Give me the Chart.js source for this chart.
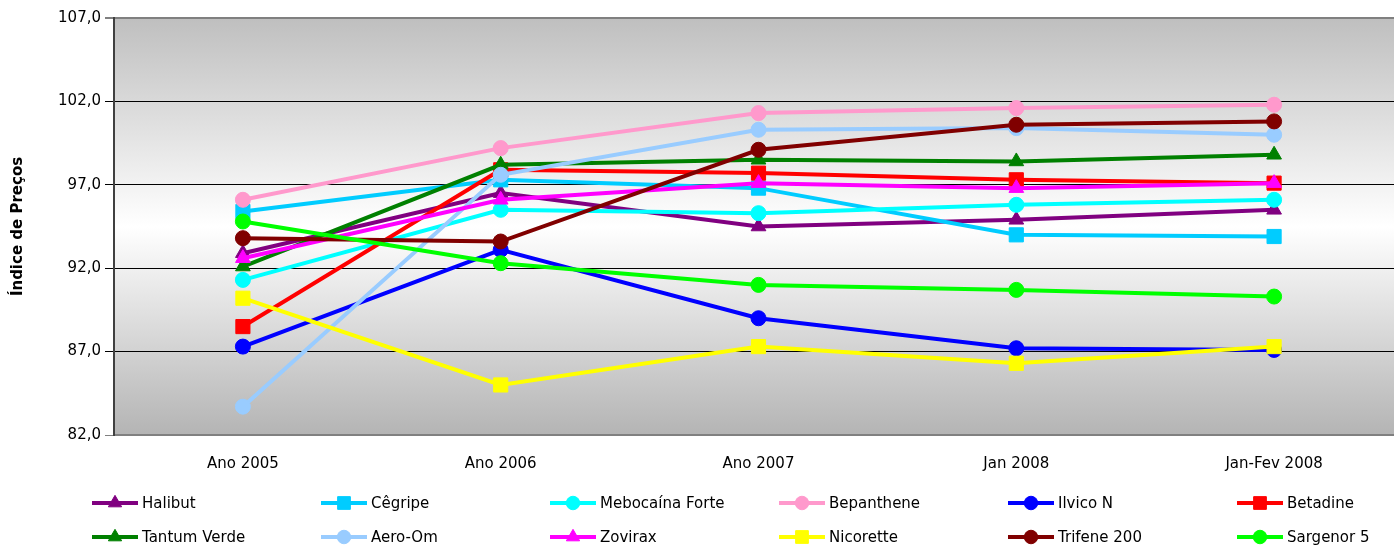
<!DOCTYPE html>
<html>
<head>
<meta charset="utf-8">
<script src="https://cdn.jsdelivr.net/npm/chart.js@4/dist/chart.umd.min.js"></script>
<style>
    html, body { margin: 0; padding: 0; overflow: hidden; background: #fff; }
    #wrap { width: 1394px; height: 547px; }
</style>
</head>
<body>
<div id="wrap"><canvas id="priceChart" width="1394" height="547"></canvas></div>
<script>
// Categories and series values
const categories = ["Ano 2005", "Ano 2006", "Ano 2007", "Jan 2008", "Jan-Fev 2008"];

const halibut    = [92.9, 96.5, 94.5, 94.9, 95.5];
const cegripe    = [95.4, 97.3, 96.8, 94.0, 93.9];
const mebocaina  = [91.3, 95.5, 95.3, 95.8, 96.1];
const bepanthene = [96.1, 99.2, 101.3, 101.6, 101.8];
const ilvico     = [87.3, 93.1, 89.0, 87.2, 87.1];
const betadine   = [88.5, 97.9, 97.7, 97.3, 97.1];
const tantum     = [92.1, 98.2, 98.5, 98.4, 98.8];
const aeroOm     = [83.7, 97.6, 100.3, 100.4, 100.0];
const zovirax    = [92.6, 96.1, 97.1, 96.8, 97.1];
const nicorette  = [90.2, 85.0, 87.3, 86.3, 87.3];
const trifene    = [93.8, 93.6, 99.1, 100.6, 100.8];
const sargenor   = [94.8, 92.3, 91.0, 90.7, 90.3];

const seriesNames = ["Halibut", "Cêgripe", "Mebocaína Forte", "Bepanthene", "Ilvico N", "Betadine",
                     "Tantum Verde", "Aero-Om", "Zovirax", "Nicorette", "Trifene 200", "Sargenor 5"];
const seriesValues = [halibut, cegripe, mebocaina, bepanthene, ilvico, betadine,
                      tantum, aeroOm, zovirax, nicorette, trifene, sargenor];
const seriesColors = ["#800080", "#00ccff", "#00ffff", "#ff99cc", "#0000ff", "#ff0000",
                      "#008000", "#99ccff", "#ff00ff", "#ffff00", "#800000", "#00ff00"];
const seriesMarkers = ["triangle", "rect", "circle", "circle", "circle", "rect",
                       "triangle", "circle", "triangle", "rect", "circle", "circle"];

const yTicks = { min: 82, max: 107, step: 5 };

const markerRadius = { circle: 7.5, rect: 10, triangle: 8.5 };
const FONT = "'DejaVu Sans', Verdana, sans-serif";
const PLOT_RIGHT = 1403; // plot area runs just past the window edge, as in the reference

document.addEventListener("DOMContentLoaded", () => {
    const ctx = document.getElementById("priceChart").getContext("2d");
    Chart.defaults.font.family = FONT;
    Chart.defaults.font.size = 15;
    Chart.defaults.color = "#000";

    const datasets = seriesNames.map((name, i) => ({
        label: name,
        data: seriesValues[i],
        borderColor: seriesColors[i],
        backgroundColor: seriesColors[i],
        pointBackgroundColor: seriesColors[i],
        pointBorderColor: seriesColors[i],
        borderWidth: 4,
        pointStyle: seriesMarkers[i],
        pointRadius: markerRadius[seriesMarkers[i]],
        pointBorderWidth: 1,
        tension: 0,
        order: seriesNames.length - i // later series drawn on top
    }));

    // Stretch the plot area past the right edge
    const widenPlot = {
        id: "widenPlot",
        afterLayout(chart) {
            const x = chart.scales.x;
            chart.chartArea.right = PLOT_RIGHT;
            chart.chartArea.width = PLOT_RIGHT - chart.chartArea.left;
            x.right = PLOT_RIGHT;
            x.width = PLOT_RIGHT - x.left;
            x.configure();
        }
    };

    // Gray-white-gray plot background
    const plotBackground = {
        id: "plotBackground",
        beforeDraw(chart) {
            const { ctx, chartArea: a } = chart;
            const g = ctx.createLinearGradient(0, a.top, 0, a.bottom);
            g.addColorStop(0, "#bfbfbf");
            g.addColorStop(0.5, "#ffffff");
            g.addColorStop(1, "#b4b4b4");
            ctx.save();
            ctx.fillStyle = g;
            ctx.fillRect(a.left, a.top, a.right - a.left, a.bottom - a.top);
            ctx.restore();
        }
    };

    // Legend in fixed columns below the plot
    const gridLegend = {
        id: "gridLegend",
        afterDraw(chart) {
            const c = chart.ctx;
            c.save();
            chart.data.datasets.forEach((ds, i) => {
                const x0 = 92 + (i % 6) * 229;
                const y = 503 + Math.floor(i / 6) * 34;
                c.strokeStyle = ds.borderColor;
                c.lineWidth = 4;
                c.beginPath();
                c.moveTo(x0, y);
                c.lineTo(x0 + 46, y);
                c.stroke();
                c.fillStyle = ds.backgroundColor;
                c.lineWidth = 1;
                Chart.helpers.drawPoint(c, {
                    pointStyle: ds.pointStyle,
                    radius: ds.pointRadius * 0.9,
                    rotation: 0,
                    borderWidth: 1
                }, x0 + 23, y);
                c.fillStyle = "#000";
                c.font = "15px " + FONT;
                c.textBaseline = "middle";
                c.fillText(ds.label, x0 + 50, y + 1);
            });
            c.restore();
        }
    };

    new Chart(ctx, {
        type: "line",
        data: { labels: categories, datasets: datasets },
        options: {
            responsive: false,
            animation: false,
            layout: { padding: { top: 18, left: 0, right: 0, bottom: 0 } },
            plugins: { legend: { display: false }, tooltip: { enabled: false } },
            scales: {
                x: {
                    offset: true,
                    grid: { display: false, drawTicks: false },
                    border: { color: "#808080", width: 2 },
                    ticks: { padding: 20, maxRotation: 0, font: { size: 15 } },
                    afterFit: (scale) => { scale.height = 112; }
                },
                y: {
                    min: yTicks.min,
                    max: yTicks.max,
                    ticks: {
                        stepSize: yTicks.step,
                        padding: 4,
                        font: { size: 15 },
                        callback: (v) => v.toFixed(1).replace(".", ",")
                    },
                    grid: {
                        color: (c) => (c.tick && (c.tick.value === yTicks.max || c.tick.value === yTicks.min)) ? "#808080" : "#000",
                        lineWidth: (c) => (c.tick && c.tick.value === yTicks.max) ? 2 : 1,
                        tickLength: 9
                    },
                    border: { color: "#404040", width: 2 },
                    title: {
                        display: true,
                        text: "Índice de Preços",
                        font: { size: 15, weight: "bold" },
                        padding: { top: 9, bottom: 0 }
                    },
                    afterFit: (scale) => { scale.width = 114; }
                }
            }
        },
        plugins: [widenPlot, plotBackground, gridLegend]
    });
});
</script>
</body>
</html>
